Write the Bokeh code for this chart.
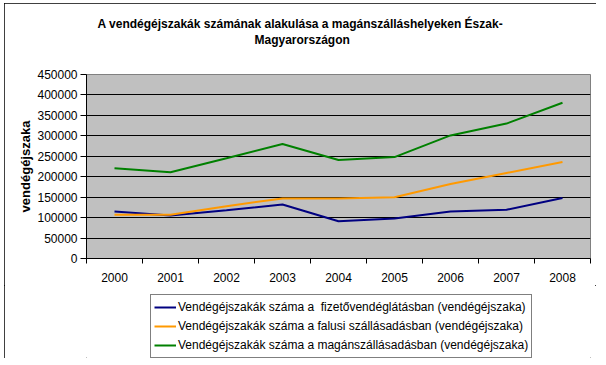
from bokeh.plotting import figure
from bokeh.layouts import column
from bokeh.models import FixedTicker, Legend, LegendItem, Range1d, NumeralTickFormatter, Title
from bokeh.embed import file_html
from bokeh.resources import INLINE

years = [2000, 2001, 2002, 2003, 2004, 2005, 2006, 2007, 2008]
fizeto = [115000, 105000, 118000, 132000, 91000, 98000, 115000, 119000, 148000]
falusi = [107000, 107000, 128000, 147000, 147000, 150000, 182000, 209000, 236000]
magan = [221000, 211000, 245000, 280000, 241000, 248000, 301000, 330000, 381000]
y_ticks = [0, 50000, 100000, 150000, 200000, 250000, 300000, 350000, 400000, 450000]

names = [
    "Vendégéjszakák száma a  fizetővendéglátásban (vendégéjszaka)",
    "Vendégéjszakák száma a falusi szállásadásban (vendégéjszaka)",
    "Vendégéjszakák száma a magánszállásadásban (vendégéjszaka)",
]
colors = ["#000080", "#FF9900", "#008000"]
title1 = "A vendégéjszakák számának alakulása a magánszálláshelyeken Észak-"
title2 = "Magyarországon"
ylabel = "vendégéjszaka"

FONT = "Liberation Sans"

p = figure(width=592, height=282, output_backend="svg", toolbar_location=None,
           x_range=Range1d(years[0] - 0.5, years[-1] + 0.5),
           y_range=Range1d(y_ticks[0], y_ticks[-1]),
           min_border_left=82, min_border_right=6, min_border_top=71, min_border_bottom=27)
p.background_fill_color = "#C0C0C0"
p.border_fill_color = "white"
p.outline_line_color = "#808080"
p.outline_line_width = 1

p.xgrid.visible = False
p.ygrid.ticker = FixedTicker(ticks=y_ticks[1:-1])
p.ygrid.grid_line_color = "black"
p.ygrid.grid_line_width = 1

# x axis: labels centred on categories, ticks between them
xa = p.xaxis[0]
xa.ticker = FixedTicker(ticks=years, minor_ticks=[y - 0.5 for y in years] + [years[-1] + 0.5])
xa.major_tick_out = 0
xa.major_tick_in = 0
xa.minor_tick_out = 5
xa.minor_tick_in = 0
xa.minor_tick_line_color = "black"
xa.major_label_standoff = 9
xa.axis_line_color = "black"

ya = p.yaxis[0]
ya.ticker = FixedTicker(ticks=y_ticks)
ya.formatter = NumeralTickFormatter(format="0")
ya.major_tick_out = 6
ya.major_tick_in = 0
ya.minor_tick_out = 0
ya.minor_tick_in = 0
ya.major_tick_line_color = "black"
ya.major_label_standoff = 3
ya.axis_line_color = "black"
ya.axis_label = ylabel
ya.axis_label_standoff = 1
ya.axis_label_text_font = FONT
ya.axis_label_text_font_style = "bold"
ya.axis_label_text_font_size = "13px"
ya.axis_label_text_color = "black"

for ax in (xa, ya):
    ax.major_label_text_font = FONT
    ax.major_label_text_font_size = "12px"
    ax.major_label_text_color = "black"

series = [fizeto, falusi, magan]
for data, c in zip(series, colors):
    p.line(years, data, line_color=c, line_width=2)

# titles stack outward from the frame: spacer, second line, first line
p.add_layout(Title(text=" ", standoff=10, text_font=FONT, text_font_size="12px"), "above")
p.add_layout(Title(text=title2, align="left", offset=168, standoff=0, vertical_align="top",
                   text_font=FONT, text_font_style="bold", text_font_size="12px",
                   text_color="black"), "above")
p.add_layout(Title(text=title1, align="left", offset=11, standoff=3, vertical_align="bottom",
                   text_font=FONT, text_font_style="bold", text_font_size="12px",
                   text_color="black"), "above")

# legend strip below the chart (its lines lie outside its ranges, only the legend shows)
lg = figure(width=592, height=73, output_backend="svg", toolbar_location=None,
            x_axis_type=None, y_axis_type=None, x_range=Range1d(0, 1), y_range=Range1d(0, 1),
            min_border=0)
lg.outline_line_color = None
lg.background_fill_color = "white"
lg.border_fill_color = "white"
items = []
for data, name, c in zip(series, names, colors):
    r = lg.line(years, data, line_color=c, line_width=2)
    items.append(LegendItem(label=name, renderers=[r]))

legend = Legend(items=items, location=(64, 0))
legend.label_text_font = FONT
legend.label_text_font_size = "12px"
legend.label_text_color = "black"
legend.glyph_width = 22
legend.glyph_height = 18
legend.label_height = 18
legend.label_standoff = 2
legend.spacing = 1
legend.padding = 3
legend.margin = 0
legend.border_line_color = "black"
legend.border_line_width = 1
legend.background_fill_color = "white"
legend.background_fill_alpha = 1
lg.add_layout(legend)

layout = column(p, lg, spacing=0)
layout.styles = {"margin-left": "4px", "margin-top": "3px",
                 "outline": "1px solid black", "outline-offset": "-1px"}

open("out.html", "w").write(file_html(layout, INLINE))
